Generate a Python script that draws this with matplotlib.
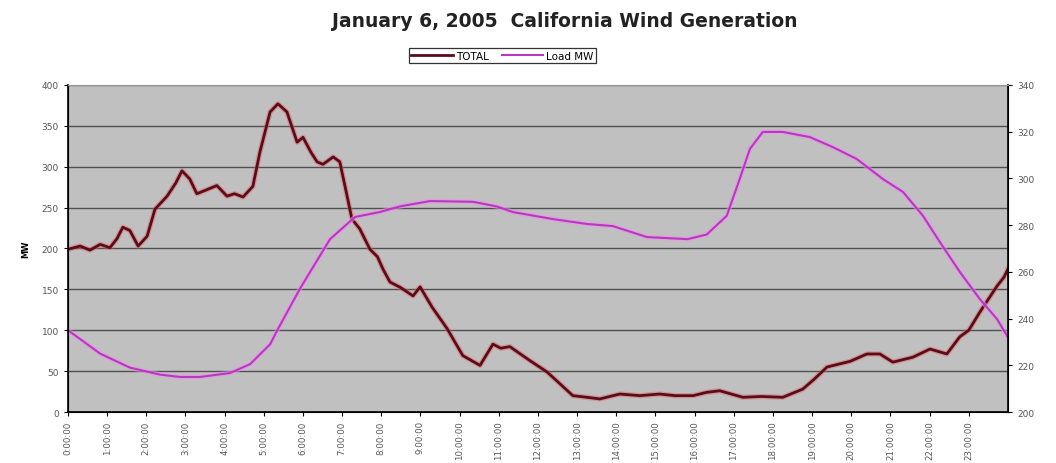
import matplotlib
matplotlib.use("Agg")
from matplotlib import pyplot as plt

# wind generation, MW (left axis)
total_hours = [0.00, 0.31, 0.56, 0.82, 1.07, 1.25, 1.40, 1.58, 1.79, 2.02, 2.22, 2.53, 2.75,
               2.91, 3.11, 3.29, 3.55, 3.80, 4.06, 4.25, 4.47, 4.72, 4.90, 5.16, 5.36, 5.59,
               5.85, 6.00, 6.20, 6.36, 6.51, 6.77, 6.94, 7.10, 7.25, 7.45, 7.71, 7.90, 8.04,
               8.22, 8.50, 8.81, 8.99, 9.30, 9.68, 10.08, 10.52, 10.85, 11.05, 11.28, 11.79,
               12.23, 12.55, 12.89, 13.25, 13.58, 14.09, 14.60, 15.11, 15.50, 15.96, 16.30,
               16.64, 17.23, 17.70, 18.25, 18.76, 19.05, 19.38, 19.97, 20.40, 20.73, 21.06,
               21.57, 22.01, 22.44, 22.77, 23.00, 23.28, 23.50, 23.72, 23.90, 24.00]
total_mw = [199, 203, 198, 205, 201, 212, 226, 222, 203, 215, 248, 264, 280,
            295, 285, 267, 272, 277, 264, 267, 263, 276, 318, 367, 377, 367,
            330, 336, 318, 306, 303, 312, 306, 270, 236, 224, 199, 190, 175,
            159, 152, 142, 153, 128, 102, 69, 57, 83, 78, 80, 63,
            49, 35, 20, 18, 16, 22, 20, 22, 20, 20, 24,
            26, 18, 19, 18, 28, 40, 55, 62, 71, 71, 61,
            67, 77, 71, 92, 100, 122, 138, 154, 165, 175]

# system load (right axis)
load_hours = [0.00, 0.82, 1.58, 2.35, 2.86, 3.37, 4.14, 4.65, 5.16, 5.36, 5.92, 6.69, 7.33,
              7.96, 8.47, 9.24, 10.34, 10.95, 11.36, 12.38, 13.25, 13.91, 14.78, 15.82,
              16.31, 16.82, 17.15, 17.41, 17.74, 18.25, 18.94, 19.53, 20.14, 20.81, 21.32,
              21.83, 22.26, 22.77, 23.28, 23.72, 24.00]
load_mw = [235, 225, 219, 216, 215, 215, 216.7, 220.5, 229, 235.5, 252.7, 274, 283.5,
           285.6, 288, 290.3, 290, 288, 285.6, 282.6, 280.5, 279.6, 274.9, 274,
           276, 284, 299.7, 312.6, 319.9, 319.9, 317.7, 313.4, 308.3, 299.7, 294.2,
           284, 272.8, 260, 248.4, 239.8, 232]

hour_labels = ["%d:00:00" % h for h in range(24)]

fig = plt.figure(figsize=(10.56, 4.64), dpi=100)
ax = fig.add_axes([0.0644, 0.1099, 0.8901, 0.7048])
ax.set_facecolor("#c0c0c0")

ax.set_xlim(0, 24)
ax.set_ylim(0, 400)
ax.set_yticks(range(0, 401, 50))
ax.yaxis.grid(True, color="#505050", linewidth=1)
ax.set_axisbelow(True)
ax.set_xticks(range(24))
ax.set_xticklabels(hour_labels, rotation=90, fontsize=6.2, color="#555555")
ax.tick_params(axis="y", labelsize=6.5, labelcolor="#555555", length=3, direction="out")
ax.tick_params(axis="x", length=3, direction="out", pad=3)
ax.set_ylabel("MW", fontsize=6, fontweight="bold", labelpad=8)
for side in ("left", "bottom"):
    ax.spines[side].set_linewidth(1.2)
ax.spines["top"].set_color("#999999")

ax2 = ax.twinx()
ax2.set_ylim(200, 340)
ax2.set_yticks(range(200, 341, 20))
ax2.tick_params(axis="y", labelsize=6.5, labelcolor="#555555", length=3, direction="out")
ax2.spines["right"].set_linewidth(1.2)
ax2.spines["top"].set_color("#999999")

# soft halo under each line, then the line itself
ax.plot(total_hours, total_mw, color="#e06060", linewidth=3.8, alpha=0.45)
l1, = ax.plot(total_hours, total_mw, color="#5c0c18", linewidth=2.0, label="TOTAL")
ax2.plot(load_hours, load_mw, color="#f090f0", linewidth=3.4, alpha=0.55)
l2, = ax2.plot(load_hours, load_mw, color="#b838c0", linewidth=1.5, label="Load MW")

fig.suptitle("January 6, 2005  California Wind Generation", x=0.535, y=0.975,
             fontsize=13.5, fontweight="bold", color="#222222")

leg = fig.legend(handles=[l1, l2], loc="center", bbox_to_anchor=(0.476, 0.878), ncol=2,
                 fontsize=7.5, frameon=True, fancybox=False, handlelength=4,
                 borderpad=0.25, columnspacing=1.2, handletextpad=0.3)
leg.get_frame().set_edgecolor("black")
leg.get_frame().set_linewidth(0.9)

fig.savefig("out.png", dpi=100)
